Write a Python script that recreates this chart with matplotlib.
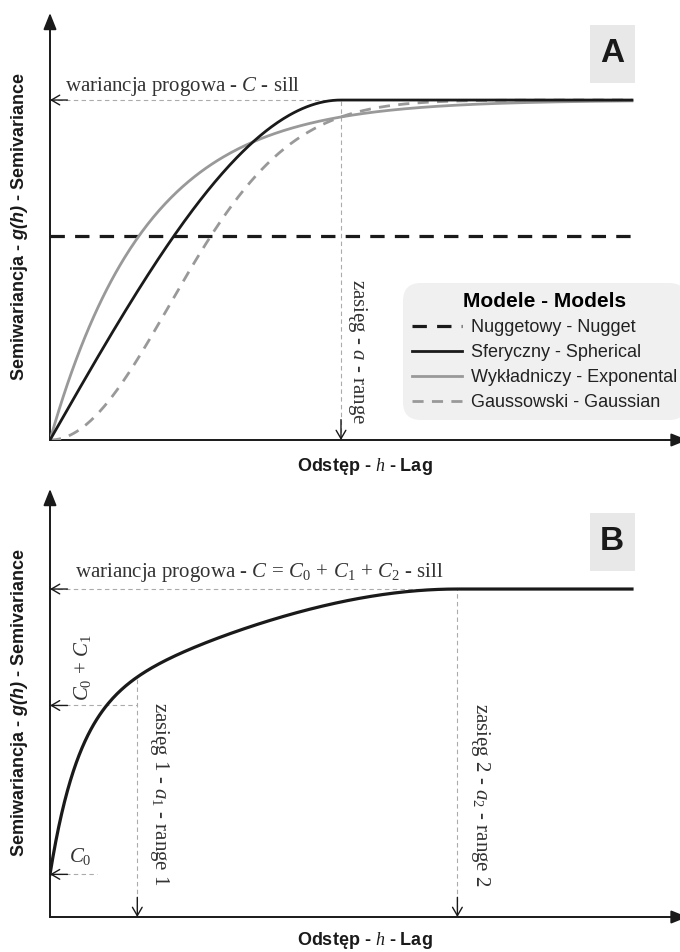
import numpy as np
import matplotlib.pyplot as plt
from matplotlib.patches import Rectangle

# lag axis (same scale in both panels, range of panel A = 1)
H_MAX = 2.0
X_END = 2.165

# panel A: single-structure models
SILL_A = 1.0
RANGE_A = 1.0
NUGGET_A = 0.6
Y_END_A = 1.256

# panel B: nugget + exponential + spherical nested model
C0 = 0.13
C1 = 0.515
C2 = 0.355
A1 = 0.30
A2 = 1.40
Y_END_B = 1.305

MODEL_LABELS = [
    "Nuggetowy - Nugget",
    "Sferyczny - Spherical",
    "Wykładniczy - Exponental",
    "Gaussowski - Gaussian",
]

BLACK = "#1a1a1a"
GREY = "#999999"
GUIDE = "#ababab"
SANS = "Liberation Sans"
SERIF = "Liberation Serif"

plt.rcParams["mathtext.fontset"] = "custom"
plt.rcParams["mathtext.rm"] = SERIF
plt.rcParams["mathtext.it"] = SERIF + ":italic"
plt.rcParams["mathtext.bf"] = SERIF + ":bold"
plt.rcParams["mathtext.sf"] = SANS + ":italic:bold"


def spherical(h, c, a):
    t = np.clip(h / a, 0, 1)
    return c * (1.5 * t - 0.5 * t ** 3)


def exponential(h, c, a):
    return c * (1 - np.exp(-3 * h / a))


def gaussian(h, c, a):
    return c * (1 - np.exp(-3 * h ** 2 / a ** 2))


def draw_axes(ax, x_end, y_end):
    ax.set_xlim(0, x_end)
    ax.set_ylim(0, y_end)
    ax.set_axis_off()
    ax.annotate("", xy=(0, y_end), xytext=(0, 0),
                arrowprops=dict(arrowstyle="-|>,head_length=1.0,head_width=0.4",
                                color=BLACK, lw=1.3, shrinkA=0, shrinkB=0),
                annotation_clip=False)
    ax.annotate("", xy=(x_end * 1.012, 0), xytext=(0, 0),
                arrowprops=dict(arrowstyle="-|>,head_length=1.0,head_width=0.4",
                                color=BLACK, lw=1.3, shrinkA=0, shrinkB=0),
                annotation_clip=False)
    ax.plot([0, 0], [0, y_end * 0.97], color="#444444", lw=1.3, clip_on=False)
    ax.plot([0, x_end], [0, 0], color="#444444", lw=1.3, clip_on=False)


def guide_h(ax, x1, y):
    ax.plot([0, x1], [y, y], color=GUIDE, lw=0.8, ls=(0, (4, 3)), zorder=1)
    ax.annotate("", xy=(0, y), xytext=(0.06, y),
                arrowprops=dict(arrowstyle="->,head_length=0.6,head_width=0.35",
                                color=BLACK, lw=1.0, shrinkA=0, shrinkB=0))


def guide_v(ax, x, y0):
    ax.plot([x, x], [0, y0], color=GUIDE, lw=0.8, ls=(0, (4, 3)), zorder=1)
    ax.annotate("", xy=(x, 0), xytext=(x, 0.06),
                arrowprops=dict(arrowstyle="->,head_length=0.6,head_width=0.35",
                                color=BLACK, lw=1.0, shrinkA=0, shrinkB=0))


def panel_tag(fig, letter, x_px, y_px):
    w, h = 45, 58
    fig.add_artist(Rectangle(((x_px - w / 2) / 680, 1 - (y_px + h / 2) / 952),
                             w / 680, h / 952, transform=fig.transFigure,
                             facecolor="#e8e8e8", edgecolor="none"))
    fig.text(x_px / 680, 1 - y_px / 952, letter, family=SANS, weight="bold",
             fontsize=24, color=BLACK, ha="center", va="center")


def labels(ax, xlab_y):
    ax.text(-0.048, 0.5, r"Semiwariancja - $\mathsf{g(h)}$ - Semivariance",
            transform=ax.transAxes, rotation=90, ha="center", va="center",
            family=SANS, weight="bold", fontsize=13, color=BLACK)
    ax.text(0.5, xlab_y, r"Odstęp - $h$ - Lag", transform=ax.transAxes,
            ha="center", va="center", family=SANS, weight="bold",
            fontsize=13, color=BLACK)


fig = plt.figure(figsize=(6.8, 9.52), dpi=100)
h = np.linspace(0, H_MAX, 400)

# ---- panel A
axA = fig.add_axes([50 / 680, 512 / 952, 630 / 680, 427 / 952])
draw_axes(axA, X_END, Y_END_A)
guide_h(axA, RANGE_A, SILL_A)
guide_v(axA, RANGE_A, SILL_A)

nug = axA.plot([0, H_MAX], [NUGGET_A, NUGGET_A], color=BLACK, lw=2.3,
               ls=(0, (4.5, 3.2)), zorder=3)[0]
sph = axA.plot(h, spherical(h, SILL_A, RANGE_A), color=BLACK, lw=2.0, zorder=4)[0]
exp_ = axA.plot(h, exponential(h, SILL_A, RANGE_A), color=GREY, lw=2.0, zorder=3)[0]
gau = axA.plot(h, gaussian(h, SILL_A, RANGE_A), color=GREY, lw=2.0,
               ls=(0, (4, 3)), zorder=3)[0]

axA.text(0.05, 1.026, r"wariancja progowa - $C$ - sill", family=SERIF,
         fontsize=15, color="#333333", ha="left", va="baseline")
axA.text(1.058, 0.259, r"zasięg - $a$ - range", family=SERIF, fontsize=15,
         color="#333333", rotation=270, ha="center", va="center")

leg = axA.legend([nug, sph, exp_, gau], MODEL_LABELS, title="Modele - Models",
                 loc="upper left", bbox_to_anchor=(0.56, 0.368),
                 prop=dict(family=SANS, size=13),
                 title_fontproperties=dict(family=SANS, weight="bold", size=15),
                 frameon=True, facecolor="#f0f0f0", edgecolor="none",
                 framealpha=1, fancybox=True, handlelength=2.8,
                 handletextpad=0.5, labelspacing=0.45, borderpad=0.5,
                 borderaxespad=0)
leg.get_frame().set_boxstyle("round", pad=0.0, rounding_size=1.0)
for t in leg.get_texts():
    t.set_color("#222222")

labels(axA, -0.062)
panel_tag(fig, "A", 612, 54)

# ---- panel B
axB = fig.add_axes([50 / 680, 35 / 952, 630 / 680, 428 / 952])
draw_axes(axB, X_END, Y_END_B)

sill_b = C0 + C1 + C2
gamma_b = C0 + exponential(h, C1, A1) + spherical(h, C2, A2)
guide_h(axB, A2, sill_b)
guide_v(axB, A2, sill_b)
guide_h(axB, A1, C0 + C1)
guide_v(axB, A1, C0 + exponential(A1, C1, A1) + spherical(A1, C2, A2))
guide_h(axB, 0.16, C0)

axB.plot(h, gamma_b, color=BLACK, lw=2.3, zorder=4)

axB.text(0.086, 1.037,
         r"wariancja progowa - $C\,=\,C_0\,+\,C_1\,+\,C_2$ - sill",
         family=SERIF, fontsize=15, color="#333333", ha="left", va="baseline")
axB.text(0.113, 0.762, r"$C_0\,+\,C_1$", family=SERIF, fontsize=15,
         color="#333333", rotation=90, ha="center", va="center")
axB.text(0.103, 0.183, r"$C_0$", family=SERIF, fontsize=15,
         color="#333333", ha="center", va="center")
axB.text(0.378, 0.375, r"zasięg 1 - $a_1$ - range 1", family=SERIF,
         fontsize=15, color="#333333", rotation=270, ha="center", va="center")
axB.text(1.478, 0.372, r"zasięg 2 - $a_2$ - range 2", family=SERIF,
         fontsize=15, color="#333333", rotation=270, ha="center", va="center")

labels(axB, -0.055)
panel_tag(fig, "B", 612, 542)

fig.savefig("out.png", dpi=100)
